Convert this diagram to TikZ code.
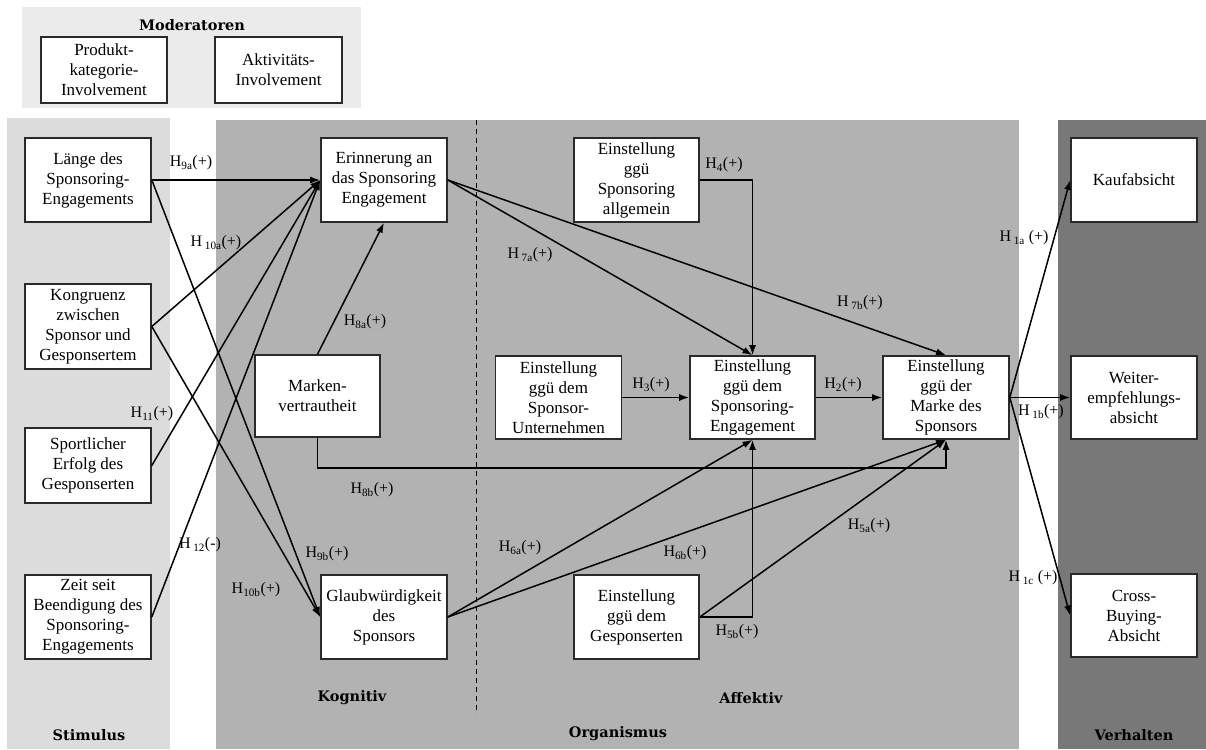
\documentclass[tikz,border=0pt]{standalone}
\usepackage{fontspec}
\setmainfont{Liberation Serif}
\newfontfamily\headfont{DejaVu Serif}
\usetikzlibrary{arrows.meta,calc}
\definecolor{modbg}{HTML}{EBEBEB}
\definecolor{stimbg}{HTML}{DCDCDC}
\definecolor{orgbg}{HTML}{B2B2B2}
\definecolor{verbg}{HTML}{787878}
\definecolor{edge}{HTML}{2A2A2A}
\tikzset{
  x=1pt, y=-1pt,
  box/.style={draw=edge, fill=white, line width=1.6pt, align=center,
    inner sep=0pt, font=\fontsize{17}{20}\selectfont},
  hyp/.style={font=\fontsize{16}{18}\selectfont, inner sep=1pt},
  head/.style={font=\headfont\bfseries\fontsize{14.5}{17}\selectfont, inner sep=0pt},
  conn/.style={draw=black, line width=1.5pt, -{Latex[length=10pt,width=7pt]}},
}
\begin{document}
\begin{tikzpicture}
\useasboundingbox (0,0) rectangle (1206,749);
\fill[white] (0,0) rectangle (1206,749);
% backgrounds
\fill[modbg] (22,7) rectangle (361,108);
\fill[stimbg] (7,118) rectangle (170,749);
\fill[orgbg] (216,120) rectangle (1019,749);
\fill[verbg] (1058,120) rectangle (1206,749);
\draw[line width=1pt, dash pattern=on 5pt off 4pt] (476,120) -- (476,714);
% headings
\node[head] (hmod) at (192,25) {Moderatoren};
\node[head] (hstim) at (89,735) {Stimulus};
\node[head] (hkog) at (352,698) {Kognitiv};
\node[head] (haff) at (751,698) {Affektiv};
\node[head] (horg) at (618,734) {Organismus};
\node[head] (hverh) at (1134,735) {Verhalten};
% boxes
\node[box, minimum width=126pt, minimum height=66pt] (prod) at (104,70) {Produkt-\\kategorie-\\Involvement};
\node[box, minimum width=127pt, minimum height=66pt] (akt) at (278.5,70) {Aktivitäts-\\Involvement};
\node[box, minimum width=126pt, minimum height=84pt] (laenge) at (88,180) {Länge des\\Sponsoring-\\Engagements};
\node[box, minimum width=126pt, minimum height=85pt] (kong) at (88,326.5) {Kongruenz\\zwischen\\Sponsor und\\Gesponsertem};
\node[box, minimum width=126pt, minimum height=75pt] (sport) at (88,465.5) {Sportlicher\\Erfolg des\\Gesponserten};
\node[box, minimum width=126pt, minimum height=84pt] (zeit) at (88,617) {Zeit seit\\Beendigung des\\Sponsoring-\\Engagements};
\node[box, minimum width=126pt, minimum height=84pt] (erin) at (384,180) {Erinnerung an\\das Sponsoring\\Engagement};
\node[box, minimum width=125pt, minimum height=82pt] (marken) at (317.5,396) {Marken-\\vertrautheit};
\node[box, minimum width=126pt, minimum height=84pt] (glaub) at (384,617) {Glaubwürdigkeit\\des\\Sponsors};
\node[box, minimum width=125pt, minimum height=84pt] (allg) at (636.5,180) {Einstellung\\ggü\\Sponsoring\\allgemein};
\node[box, minimum width=126pt, minimum height=83pt] (unt) at (558.5,397.5) {Einstellung\\ggü dem\\Sponsor-\\Unternehmen};
\node[box, minimum width=125pt, minimum height=83pt] (eng) at (752.5,397.5) {Einstellung\\ggü dem\\Sponsoring-\\Engagement};
\node[box, minimum width=126pt, minimum height=83pt] (marke) at (946,397.5) {Einstellung\\ggü der\\Marke des\\Sponsors};
\node[box, minimum width=125pt, minimum height=84pt] (gesp) at (636.5,617) {Einstellung\\ggü dem\\Gesponserten};
\node[box, minimum width=126pt, minimum height=84pt] (kauf) at (1134,180) {Kaufabsicht};
\node[box, minimum width=126pt, minimum height=83pt] (weiter) at (1134,397.5) {Weiter-\\empfehlungs-\\absicht};
\node[box, minimum width=126pt, minimum height=83pt] (cross) at (1134,615.5) {Cross-\\Buying-\\Absicht};
% connectors
\coordinate (lowbus) at (0,468);
\draw[conn] (laenge.east) -- (erin.west);
\draw[conn] (kong.east) -- (erin.west);
\draw[conn] (sport.east) -- (erin.west);
\draw[conn] (zeit.east) -- (erin.west);
\draw[conn] (laenge.east) -- (glaub.west);
\draw[conn] (kong.east) -- (glaub.west);
\draw[conn] (marken.north) -- (erin.south);
\draw[conn] (marken.south) -- (marken.south |- lowbus) -| (marke.south);
\draw[conn] (erin.east) -- (eng.north);
\draw[conn] (erin.east) -- (marke.north);
\draw[conn] (allg.east) -| (eng.north);
\draw[conn] (unt.east) -- (eng.west);
\draw[conn] (eng.east) -- (marke.west);
\draw[conn] (glaub.east) -- (eng.south);
\draw[conn] (glaub.east) -- (marke.south);
\draw[conn] (gesp.east) -- (marke.south);
\draw[conn] (gesp.east) -| (eng.south);
\draw[conn] (marke.east) -- (kauf.west);
\draw[conn] (marke.east) -- (weiter.west);
\draw[conn] (marke.east) -- (cross.west);
% hypothesis labels
\node[hyp] (l9a) at (191,163) {H\textsubscript{9a}(+)};
\node[hyp] (l10a) at (216,243) {H\,\textsubscript{10a}(+)};
\node[hyp] (l11) at (152,414) {H\textsubscript{11}(+)};
\node[hyp] (l12) at (200,545) {H\,\textsubscript{12}(-)};
\node[hyp] (l9b) at (327,554) {H\textsubscript{9b}(+)};
\node[hyp] (l10b) at (256,590) {H\textsubscript{10b}(+)};
\node[hyp] (l8a) at (365,322) {H\textsubscript{8a}(+)};
\node[hyp] (l8b) at (372,490) {H\textsubscript{8b}(+)};
\node[hyp] (l7a) at (530,255) {H\,\textsubscript{7a}(+)};
\node[hyp] (l4) at (724,165) {H\textsubscript{4}(+)};
\node[hyp] (l3) at (651,385) {H\textsubscript{3}(+)};
\node[hyp] (l7b) at (860,303) {H\,\textsubscript{7b}(+)};
\node[hyp] (l2) at (843,385) {H\textsubscript{2}(+)};
\node[hyp] (l6a) at (520,548) {H\textsubscript{6a}(+)};
\node[hyp] (l6b) at (685,553) {H\textsubscript{6b}(+)};
\node[hyp] (l5a) at (869,526) {H\textsubscript{5a}(+)};
\node[hyp] (l5b) at (737,632) {H\textsubscript{5b}(+)};
\node[hyp] (l1a) at (1024,238) {H\,\textsubscript{1a} (+)};
\node[hyp] (l1b) at (1041,412) {H\,\textsubscript{1b}(+)};
\node[hyp] (l1c) at (1033,578) {H\,\textsubscript{1c} (+)};
\end{tikzpicture}
\end{document}
